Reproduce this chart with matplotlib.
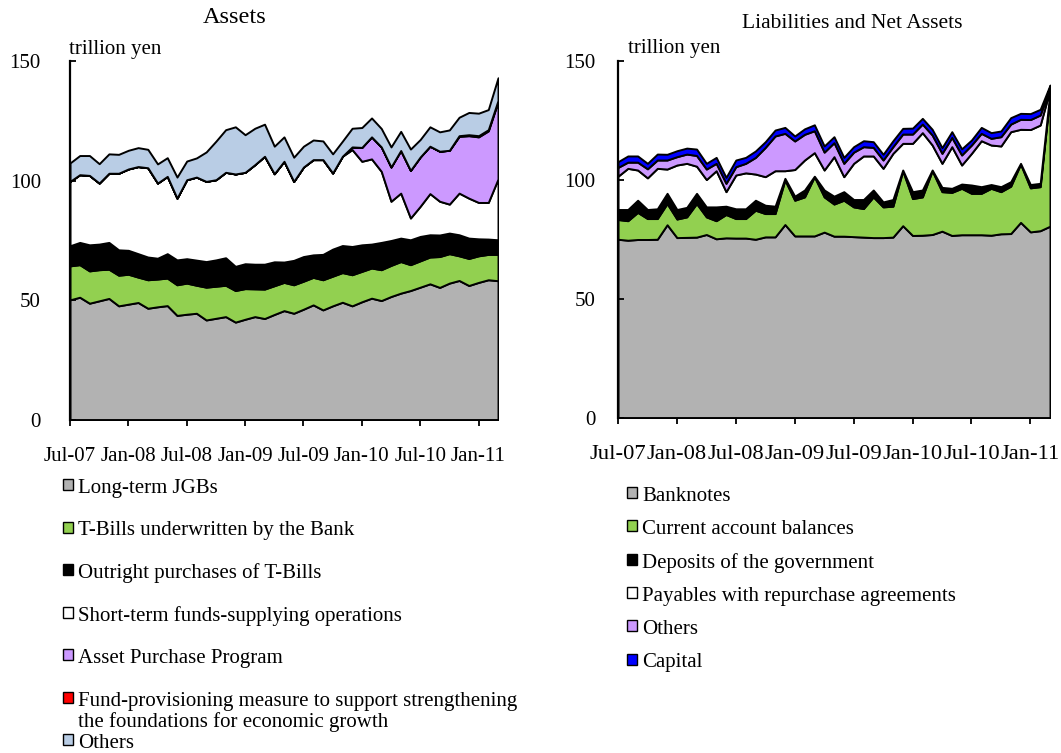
import numpy as np
import matplotlib
matplotlib.use("Agg")
import matplotlib.pyplot as plt
from matplotlib.patches import Rectangle

plt.rcParams["font.family"] = ["Liberation Serif", "DejaVu Serif"]

W, H = 1061, 753

# monthly, Jul-07 .. Mar-11 (45 points), trillion yen
TICK_LABELS = ["Jul-07", "Jan-08", "Jul-08", "Jan-09", "Jul-09", "Jan-10", "Jul-10", "Jan-11"]

# ---- Assets
jgb = [50.2, 51.3, 48.8, 49.8, 50.8, 47.7, 48.4, 49.1, 46.7, 47.3,
       47.8, 43.7, 44.2, 44.6, 41.8, 42.5, 43.2, 40.9, 42.1, 43.2,
       42.4, 44.1, 45.7, 44.6, 46.3, 48.1, 46.0, 47.7, 49.2, 47.7,
       49.4, 50.9, 49.9, 51.6, 53.0, 54.1, 55.5, 56.9, 55.4, 57.2,
       58.3, 56.2, 57.5, 58.6, 58.2]
tb_underwritten = [14.2, 13.6, 13.5, 13.0, 12.2, 12.8, 12.5, 10.6, 11.9, 11.6,
                   11.5, 12.8, 13.0, 11.7, 13.7, 13.4, 13.1, 13.2, 12.8, 11.6,
                   12.3, 12.0, 11.8, 11.9, 11.7, 11.5, 12.6, 12.4, 12.4, 13.0,
                   12.7, 12.6, 12.9, 13.0, 13.2, 10.8, 11.0, 11.2, 12.9, 12.3,
                   10.3, 11.3, 11.1, 10.6, 11.0]
outright_tb = [8.4, 9.3, 10.9, 10.7, 11.2, 10.6, 10.0, 9.8, 9.5, 8.7,
               10.2, 10.4, 10.2, 10.5, 10.7, 11.0, 11.5, 10.1, 10.4, 10.3,
               10.4, 10.0, 8.5, 10.2, 10.3, 9.4, 10.6, 11.3, 11.3, 11.8,
               11.1, 10.0, 11.4, 10.4, 9.8, 10.4, 10.2, 9.3, 9.0, 8.6,
               8.8, 8.5, 7.1, 6.4, 6.1]
short_term = [26.9, 28.3, 29.0, 25.5, 28.9, 32.0, 34.0, 36.4, 37.3, 31.4,
              32.3, 25.8, 33.0, 34.7, 33.5, 33.5, 35.7, 38.6, 38.2, 41.6,
              45.1, 36.8, 42.1, 33.0, 37.4, 39.8, 39.6, 31.8, 37.3, 40.5,
              34.9, 35.6, 29.7, 16.4, 18.8, 9.1, 12.6, 17.2, 14.1, 12.1,
              17.4, 16.7, 15.2, 15.3, 25.4]
asset_purchase = [0, 0, 0, 0, 0, 0, 0, 0, 0, 0,
                  0, 0, 0, 0, 0, 0, 0, 0, 0, 0,
                  0, 0, 0, 0, 0, 0, 0, 0, 0, 1.1,
                  5.8, 9.2, 10.2, 14.3, 17.8, 19.9, 20.6, 19.8, 20.9, 22.5,
                  23.7, 26.1, 27.4, 29.9, 32.3]
fund_provisioning = [0, 0, 0, 0, 0, 0, 0, 0, 0, 0,
                     0, 0, 0, 0, 0, 0, 0, 0, 0, 0,
                     0, 0, 0, 0, 0, 0, 0, 0, 0, 0,
                     0, 0, 0, 0, 0, 0, 0, 0, 0, 0,
                     0.3, 0.4, 0.5, 0.5, 0.5]
others_assets = [7.7, 8.0, 8.3, 8.1, 8.1, 7.9, 7.8, 7.9, 7.7, 8.0,
                 7.8, 8.8, 7.8, 8.0, 12.3, 16.1, 17.8, 19.7, 15.7, 15.2,
                 13.4, 11.5, 10.2, 10.1, 8.7, 8.2, 7.8, 8.0, 6.3, 7.8,
                 8.3, 7.9, 7.7, 8.4, 8.0, 8.9, 7.3, 8.1, 8.1, 8.5,
                 7.7, 9.3, 9.4, 8.4, 9.5]

# ---- Liabilities and net assets
banknotes = [75.1, 74.7, 75.0, 75.0, 75.1, 81.2, 75.8, 75.9, 76.0, 77.1,
             75.3, 75.7, 75.6, 75.6, 75.1, 76.1, 76.1, 81.3, 76.5, 76.5,
             76.5, 78.1, 76.4, 76.4, 76.2, 76.0, 75.8, 75.8, 76.0, 80.8,
             76.7, 76.8, 77.1, 78.5, 76.7, 77.0, 77.0, 77.0, 76.8, 77.4,
             77.5, 82.2, 78.2, 78.7, 80.6]
current_account = [8.3, 8.2, 11.4, 8.8, 8.7, 8.9, 7.8, 8.6, 14.1, 7.4,
                   7.6, 9.8, 8.2, 8.2, 12.2, 9.8, 9.8, 18.7, 15.0, 16.4,
                   24.9, 14.8, 13.5, 15.1, 12.5, 12.0, 17.1, 12.9, 13.0, 23.1,
                   15.5, 16.1, 26.8, 16.6, 18.1, 19.5, 17.4, 17.4, 19.7, 17.7,
                   19.9, 24.5, 18.5, 18.5, 55.5]
gov_deposits = [4.2, 4.7, 5.1, 3.8, 4.1, 4.3, 4.0, 4.0, 4.3, 4.2,
                5.8, 3.5, 4.1, 4.1, 4.2, 3.5, 3.1, 0.7, 1.7, 2.9,
                0.2, 2.9, 3.3, 3.6, 3.1, 3.8, 2.9, 2.1, 2.8, 0.3,
                2.9, 2.9, 0.3, 1.8, 1.7, 1.8, 3.5, 2.8, 1.6, 2.1,
                1.9, 0.3, 1.4, 1.4, 1.2]
repo_payables = [14.0, 17.3, 12.7, 13.3, 17.0, 10.2, 18.7, 18.5, 11.4, 11.5,
                 15.2, 6.1, 14.2, 15.1, 11.0, 12.0, 14.9, 3.2, 11.2, 12.6,
                 9.9, 8.4, 16.6, 6.3, 15.2, 18.3, 14.3, 14.1, 19.4, 11.2,
                 20.3, 24.1, 10.5, 10.1, 17.5, 8.0, 13.3, 19.3, 16.6, 17.1,
                 21.0, 14.3, 23.1, 24.5, 0.8]
others_liab = [3.7, 2.6, 3.3, 3.8, 3.5, 3.8, 3.5, 3.9, 4.5, 4.4,
               3.1, 3.5, 3.5, 4.0, 7.0, 12.3, 14.6, 15.7, 12.0, 10.8,
               9.2, 7.5, 5.9, 5.6, 4.7, 3.9, 3.6, 3.5, 2.8, 3.9,
               3.9, 3.6, 4.2, 4.2, 3.9, 4.2, 3.5, 3.1, 2.8, 3.9,
               3.2, 4.2, 4.2, 4.2, 1.2]
capital = [2.4, 2.6, 2.6, 2.3, 2.5, 2.4, 2.5, 2.5, 2.7, 2.4,
           2.5, 2.5, 2.8, 2.5, 2.7, 2.4, 2.5, 2.5, 2.1, 2.3,
           2.5, 2.6, 2.5, 2.5, 2.3, 2.5, 2.4, 2.4, 2.5, 2.4,
           2.5, 2.4, 2.4, 2.4, 2.4, 2.6, 2.1, 2.5, 2.4, 2.4,
           2.7, 2.5, 2.5, 2.4, 0.6]

ASSET_LABELS = ["Long-term JGBs",
                "T-Bills underwritten by the Bank",
                "Outright purchases of T-Bills",
                "Short-term funds-supplying operations",
                "Asset Purchase Program",
                "Fund-provisioning measure to support strengthening\nthe foundations for economic growth",
                "Others"]
ASSET_COLORS = ["#b2b2b2", "#92d050", "#000000", "#ffffff", "#cc99ff", "#ff0000", "#b9cde5"]

LIAB_LABELS = ["Banknotes",
               "Current account balances",
               "Deposits of the government",
               "Payables with repurchase agreements",
               "Others",
               "Capital"]
LIAB_COLORS = ["#b2b2b2", "#92d050", "#000000", "#ffffff", "#cc99ff", "#0000ff"]

LINE_STEP = 22  # px between the two lines of a wrapped legend label


def px_box(x, y, w, h):
    # pixel box (top-left origin) -> figure fraction
    return [x / W, 1 - (y + h) / H, w / W, h / H]


def stacked(ax, layers, colors, ypad, xsize):
    x = np.arange(len(layers[0]))
    ax.stackplot(x, *layers, colors=colors, edgecolor="black", linewidth=1.4)
    ax.set_xlim(0, len(x) - 1)
    ax.set_ylim(0, 150)
    ax.set_yticks([0, 50, 100, 150])
    ax.set_xticks(x[::6])
    ax.set_xticklabels(TICK_LABELS)
    ax.spines["top"].set_visible(False)
    ax.spines["right"].set_visible(False)
    ax.spines["left"].set_linewidth(1.6)
    ax.spines["bottom"].set_linewidth(1.3)
    ax.spines["left"].set_zorder(3)
    ax.tick_params(axis="y", direction="in", length=4, width=1.3, pad=ypad, labelsize=15)
    ax.tick_params(axis="x", direction="out", length=4.5, width=1.3, pad=15, labelsize=xsize)


def legend(fig, labels, colors, x_box, x_text, y0, step):
    for k, (lab, col) in enumerate(zip(labels, colors)):
        yb = y0 + k * step
        fig.patches.append(Rectangle((x_box / W, 1 - (yb - 3) / H), 10 / W, 11 / H,
                                     transform=fig.transFigure, facecolor=col,
                                     edgecolor="black", linewidth=1.0))
        # baseline alignment uses the last line of a wrapped label
        extra = lab.count("\n") * LINE_STEP
        fig.text(x_text / W, 1 - (yb + extra) / H, lab, fontsize=15, va="baseline",
                 ha="left", linespacing=1.12)


fig = plt.figure(figsize=(W / 100, H / 100), dpi=100)

ax1 = fig.add_axes(px_box(70, 61, 428, 359))
stacked(ax1, [jgb, tb_underwritten, outright_tb, short_term, asset_purchase,
              fund_provisioning, others_assets], ASSET_COLORS, 21, 15)

ax2 = fig.add_axes(px_box(618, 61, 432, 357))
stacked(ax2, [banknotes, current_account, gov_deposits, repo_payables,
              others_liab, capital], LIAB_COLORS, 16, 16.2)

fig.text(235 / W, 1 - 23 / H, "Assets", fontsize=17.5, ha="center", va="baseline")
fig.text(852 / W, 1 - 28 / H, "Liabilities and Net Assets", fontsize=15.5,
         ha="center", va="baseline")
fig.text(69 / W, 1 - 54 / H, "trillion yen", fontsize=15, va="baseline")
fig.text(628 / W, 1 - 53 / H, "trillion yen", fontsize=15, va="baseline")

legend(fig, ASSET_LABELS, ASSET_COLORS, 63, 78, 493, 42.5)
legend(fig, LIAB_LABELS, LIAB_COLORS, 627, 642, 501, 33.3)

fig.savefig("out.png", dpi=100)
